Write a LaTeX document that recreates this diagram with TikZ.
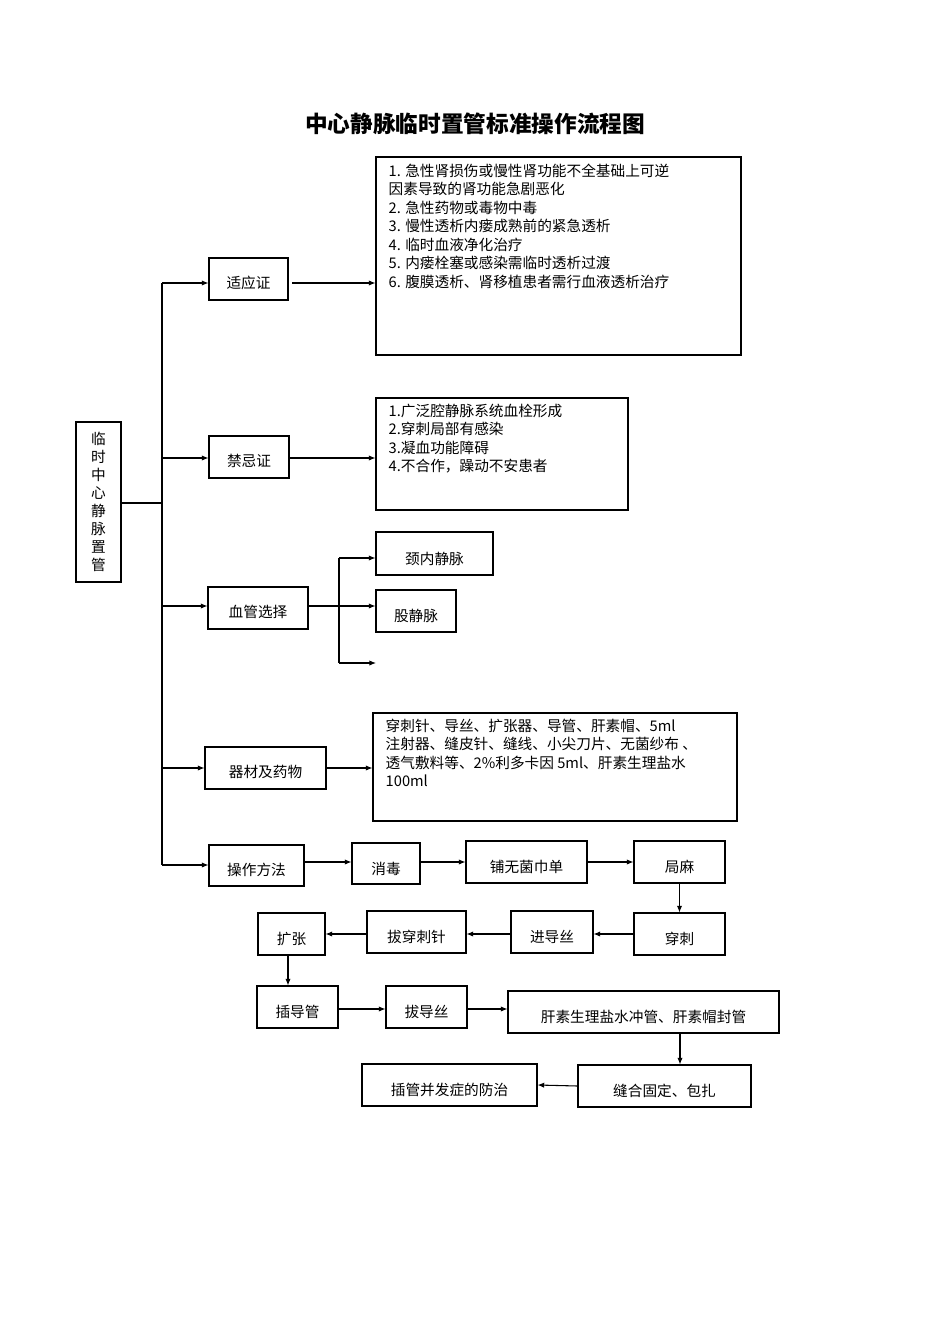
\documentclass[tikz,border=0pt]{standalone}
\usepackage{fontspec}
\setmainfont{Noto Sans CJK SC}
\usetikzlibrary{arrows.meta,positioning}
\newlength\px
\setlength\px{0.75pt}
\begin{document}
\begin{tikzpicture}[x=\px,y=-\px,
	box/.style={draw, thick, inner sep=0pt},
	txt/.style={font=\fontsize{11}{13.9}\selectfont, inner sep=0pt},
	arr/.style={-{Latex[length=5pt,width=4pt]}, thick}]
	\useasboundingbox (0,0) rectangle (950,1344);
	\node[font=\bfseries\fontsize{17}{20}\selectfont] (title) at (475,124) {中心静脉临时置管标准操作流程图};

	% left column
	\node[box, minimum width=45\px, minimum height=160\px] (main) at (98.5,502) {};
	\node[txt, align=center, font=\fontsize{11}{13.5}\selectfont] at (main) {临\\时\\中\\心\\静\\脉\\置\\管};
	\coordinate (t0) at (162,503);
	\coordinate (ttop) at (162,283);
	\coordinate (tbot) at (162,865);
	\draw[thick] (main.east |- t0) -- (t0);
	\draw[thick] (ttop) -- (tbot);

	% first level
	\node[box, minimum width=79\px, minimum height=42\px] (syz) at (248.5,279) {};
	\node[txt] at ([yshift=-4\px]syz.center) {适应证};
	\node[box, minimum width=80\px, minimum height=42\px] (jjz) at (249,457) {};
	\node[txt] at ([yshift=-4\px]jjz.center) {禁忌证};
	\node[box, minimum width=100\px, minimum height=42\px] (xgxz) at (258,608) {};
	\node[txt] at ([yshift=-4\px]xgxz.center) {血管选择};
	\node[box, minimum width=121\px, minimum height=42\px] (qcyw) at (265.5,768) {};
	\node[txt] at ([yshift=-4\px]qcyw.center) {器材及药物};
	\node[box, minimum width=95\px, minimum height=41\px] (czff) at (256.5,865.5) {};
	\node[txt] at ([yshift=-4\px]czff.center) {操作方法};

	\draw[arr] (ttop) -- (syz.west |- ttop);
	\draw[arr] (162,458) -- (jjz.west |- 0,458);
	\draw[arr] (162,606) -- (xgxz.west |- 0,606);
	\draw[arr] (162,768) -- (qcyw.west |- 0,768);
	\draw[arr] (tbot) -- (czff.west |- tbot);

	% indications
	\node[box, minimum width=365\px, minimum height=198\px] (ind) at (558.5,256) {};
	\node[txt, anchor=north west, align=left] at ([shift={(13,7)}]ind.north west)
		{1. 急性肾损伤或慢性肾功能不全基础上可逆\\因素导致的肾功能急剧恶化\\2. 急性药物或毒物中毒\\3. 慢性透析内瘘成熟前的紧急透析\\4. 临时血液净化治疗\\5. 内瘘栓塞或感染需临时透析过渡\\6. 腹膜透析、肾移植患者需行血液透析治疗};
	\draw[arr] (292,283) -- (ind.west |- 0,283);

	% contraindications
	\node[box, minimum width=252\px, minimum height=112\px] (con) at (502,454) {};
	\node[txt, anchor=north west, align=left] at ([shift={(13,6)}]con.north west)
		{1.广泛腔静脉系统血栓形成\\2.穿刺局部有感染\\3.凝血功能障碍\\4.不合作，躁动不安患者};
	\draw[arr] (jjz.east |- 0,458) -- (con.west |- 0,458);

	% vessels
	\node[box, minimum width=117\px, minimum height=43\px] (jnjm) at (434.5,553.5) {};
	\node[txt] at ([yshift=-5\px]jnjm.center) {颈内静脉};
	\node[box, minimum width=80\px, minimum height=42\px] (gjm) at (416,611) {};
	\node[txt] at ([yshift=-5\px]gjm.center) {股静脉};
	\coordinate (vtop) at (339,558);
	\coordinate (vbot) at (339,663);
	\coordinate (vend) at (376,663);
	\draw[thick] (xgxz.east |- 0,606) -- (339,606);
	\draw[thick] (vtop) -- (vbot);
	\draw[arr] (vtop) -- (jnjm.west |- vtop);
	\draw[arr] (339,606) -- (gjm.west |- 0,606);
	\draw[arr] (vbot) -- (vend);

	% equipment
	\node[box, minimum width=364\px, minimum height=108\px] (eq) at (555,767) {};
	\node[txt, anchor=north west, align=left] at ([shift={(13,6)}]eq.north west)
		{穿刺针、导丝、扩张器、导管、肝素帽、5ml\\注射器、缝皮针、缝线、小尖刀片、无菌纱布 、\\透气敷料等、2\%利多卡因 5ml、肝素生理盐水\\100ml};
	\draw[arr] (qcyw.east |- 0,768) -- (eq.west |- 0,768);

	% procedure
	\node[box, minimum width=68\px, minimum height=41\px] (xd) at (386,863.5) {};
	\node[box, minimum width=121\px, minimum height=42\px] (pwj) at (526.5,862) {};
	\node[box, minimum width=91\px, minimum height=42\px] (jm) at (679.5,862) {};
	\node[box, minimum width=91\px, minimum height=42\px] (cc) at (679.5,934) {};
	\node[box, minimum width=82\px, minimum height=42\px] (jds) at (552,932) {};
	\node[box, minimum width=99\px, minimum height=42\px] (bcz) at (416.5,932) {};
	\node[box, minimum width=67\px, minimum height=42\px] (kz) at (291.5,934) {};
	\node[box, minimum width=81\px, minimum height=42\px] (cdg) at (297.5,1007) {};
	\node[box, minimum width=81\px, minimum height=42\px] (bds) at (426.5,1007) {};
	\node[box, minimum width=271\px, minimum height=42\px] (gs) at (643.5,1012) {};
	\node[box, minimum width=173\px, minimum height=42\px] (fh) at (664.5,1086) {};
	\node[box, minimum width=175\px, minimum height=42\px] (bfz) at (449.5,1085) {};
	\foreach \n/\t in {xd/消毒, pwj/铺无菌巾单, jm/局麻, cc/穿刺, jds/进导丝, bcz/拔穿刺针, kz/扩张, cdg/插导管, bds/拔导丝, gs/肝素生理盐水冲管、肝素帽封管, fh/缝合固定、包扎, bfz/插管并发症的防治}
		\node[txt] at ([yshift=-5\px]\n.center) {\t};

	\draw[arr] (czff.east |- 0,862) -- (xd.west |- 0,862);
	\draw[arr] (xd.east |- 0,862) -- (pwj.west |- 0,862);
	\draw[arr] (pwj.east) -- (jm.west);
	\draw[arr] (jm) -- (cc);
	\draw[arr] (cc.west |- 0,934) -- (jds.east |- 0,934);
	\draw[arr] (jds.west |- 0,934) -- (bcz.east |- 0,934);
	\draw[arr] (bcz.west |- 0,934) -- (kz.east |- 0,934);
	\draw[arr] (kz.south -| 288,0) -- (cdg.north -| 288,0);
	\draw[arr] (cdg.east |- 0,1009) -- (bds.west |- 0,1009);
	\draw[arr] (bds.east |- 0,1009) -- (gs.west |- 0,1009);
	\draw[arr] (gs.south -| 680,0) -- (fh.north -| 680,0);
	\draw[arr] (fh.west) -- (bfz.east);
\end{tikzpicture}
\end{document}
